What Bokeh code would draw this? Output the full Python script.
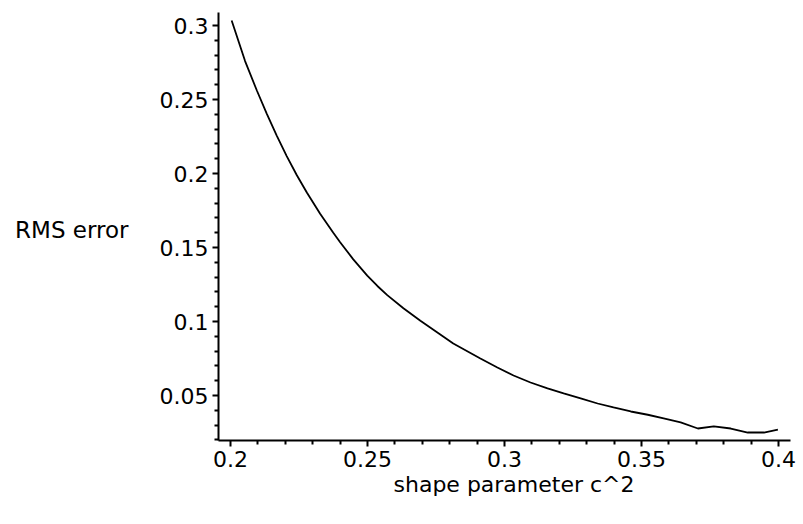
from bokeh.plotting import figure
from bokeh.models import FixedTicker, Range1d, LinearAxis, Title
from bokeh.embed import file_html
from bokeh.resources import INLINE

# data
c2 = [0.2004, 0.2053, 0.2096, 0.2132, 0.2169, 0.2205, 0.2242, 0.2279, 0.2327,
      0.2375, 0.2400, 0.2448, 0.2499, 0.2536, 0.2572, 0.2631, 0.2693, 0.2755,
      0.2813, 0.2912, 0.2974, 0.3033, 0.3095, 0.3157, 0.3216, 0.3278, 0.3340,
      0.3398, 0.3461, 0.3523, 0.3581, 0.3643, 0.3706, 0.3764, 0.3826, 0.3888,
      0.3947, 0.3998]
rms = [0.3034, 0.2760, 0.2561, 0.2405, 0.2255, 0.2118, 0.1988, 0.1870, 0.1728,
       0.1600, 0.1536, 0.1420, 0.1310, 0.1240, 0.1178, 0.1090, 0.1005, 0.0926,
       0.0851, 0.0750, 0.0689, 0.0635, 0.0588, 0.0548, 0.0514, 0.0480, 0.0446,
       0.0419, 0.0392, 0.0370, 0.0345, 0.0318, 0.0277, 0.0291, 0.0277, 0.0250,
       0.0250, 0.0270]

x_ticks = [0.2, 0.25, 0.3, 0.35, 0.4]
x_tick_labels = ["0.2", "0.25", "0.3", "0.35", "0.4"]
x_minor = [0.21, 0.22, 0.23, 0.24, 0.26, 0.27, 0.28, 0.29, 0.31, 0.32, 0.33, 0.34,
           0.36, 0.37, 0.38, 0.39]
y_ticks = [0.05, 0.1, 0.15, 0.2, 0.25, 0.3]
y_tick_labels = ["0.05", "0.1", "0.15", "0.2", "0.25", "0.3"]
y_minor = [0.02, 0.03, 0.04, 0.06, 0.07, 0.08, 0.09, 0.11, 0.12, 0.13, 0.14,
           0.16, 0.17, 0.18, 0.19, 0.21, 0.22, 0.23, 0.24, 0.26, 0.27, 0.28, 0.29]

x_label = "shape parameter c^2"
y_label = "RMS error"
y_label_at = 0.162

FONT = "DejaVu Sans"

p = figure(width=803, height=524, output_backend="svg", toolbar_location=None,
           x_range=Range1d(0.1956, 0.4044), y_range=Range1d(0.0196, 0.3088),
           min_border_left=218, min_border_right=13, min_border_top=12,
           min_border_bottom=84)
p.outline_line_color = None
p.grid.visible = False
p.background_fill_color = "white"
p.border_fill_color = "white"

p.line(c2, rms, line_color="black", line_width=1.8)

for ax, ticks, labels, minor in ((p.xaxis[0], x_ticks, x_tick_labels, x_minor),
                                 (p.yaxis[0], y_ticks, y_tick_labels, y_minor)):
    ax.ticker = FixedTicker(ticks=ticks, minor_ticks=minor)
    ax.major_label_overrides = {t: l for t, l in zip(ticks, labels)}
    ax.axis_line_width = 2
    ax.axis_line_color = "black"
    ax.major_tick_line_color = "black"
    ax.minor_tick_line_color = "black"
    ax.major_tick_line_width = 2
    ax.minor_tick_line_width = 2
    ax.major_tick_in = 0
    ax.minor_tick_in = 0
    ax.major_tick_out = 6
    ax.minor_tick_out = 4
    ax.major_label_text_font = FONT
    ax.major_label_text_font_size = "22px"
    ax.major_label_text_color = "black"
    ax.major_label_standoff = 4

# horizontal y-axis title drawn as the single label of an outer, line-less axis
ylab_axis = LinearAxis(ticker=FixedTicker(ticks=[y_label_at], minor_ticks=[]),
                       major_label_overrides={y_label_at: y_label},
                       axis_line_color=None, major_tick_line_color=None,
                       minor_tick_line_color=None,
                       major_label_text_font=FONT,
                       major_label_text_font_size="23px",
                       major_label_text_color="black",
                       major_label_standoff=22)
p.add_layout(ylab_axis, "left")

p.add_layout(Title(text=x_label, align="left", offset=175, standoff=0,
                   text_font=FONT, text_font_size="22px",
                   text_font_style="normal", text_color="black"), "below")

open("out.html", "w").write(file_html(p, INLINE))
